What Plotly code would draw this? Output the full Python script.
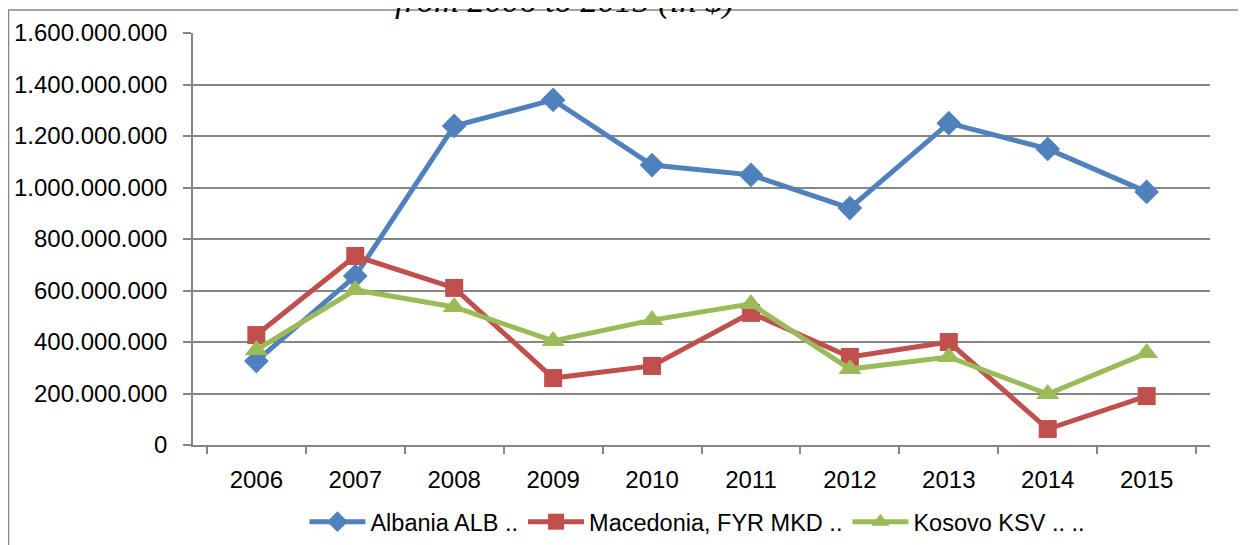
"""Line chart: yearly values for Albania, Macedonia and Kosovo, 2006-2015."""

import plotly.graph_objects as go

years = ["2006", "2007", "2008", "2009", "2010", "2011", "2012", "2013", "2014", "2015"]

albania = [326e6, 656e6, 1239e6, 1340e6, 1087e6, 1049e6, 920e6, 1250e6, 1150e6, 983e6]
macedonia = [427e6, 734e6, 610e6, 260e6, 307e6, 513e6, 342e6, 400e6, 62e6, 190e6]
kosovo = [369e6, 602e6, 536e6, 404e6, 485e6, 548e6, 295e6, 342e6, 198e6, 357e6]

series_names = ["Albania ALB ..", "Macedonia, FYR MKD ..", "Kosovo KSV .. .."]

FONT = "Liberation Sans"
GRID = "#868686"

fig = go.Figure()

fig.add_trace(go.Scatter(
    x=years, y=albania, name=series_names[0], mode="lines+markers",
    line=dict(color="#4F81BD", width=5),
    marker=dict(symbol="diamond", size=19, color="#4F81BD"),
))
fig.add_trace(go.Scatter(
    x=years, y=macedonia, name=series_names[1], mode="lines+markers",
    line=dict(color="#C0504D", width=5),
    marker=dict(symbol="square", size=18, color="#C0504D"),
))
fig.add_trace(go.Scatter(
    x=years, y=kosovo, name=series_names[2], mode="lines+markers",
    line=dict(color="#9BBB59", width=5),
    marker=dict(symbol="triangle-up", size=20, color="#9BBB59"),
))

# Titulo cortado no topo (apenas a parte de baixo aparece)
fig.add_annotation(
    text="<i>from 2006 to 2015 (in $)</i>",
    xref="paper", yref="paper", x=0.365, y=1.026,
    xanchor="center", yanchor="bottom", showarrow=False,
    font=dict(family="Liberation Serif", size=34.5, color="black"),
)

# Moldura do grafico
fig.add_shape(
    type="rect", xref="paper", yref="paper",
    x0=-0.1814, x1=1.05, y0=-0.3, y1=1.0558,
    line=dict(color=GRID, width=1.5), fillcolor="rgba(0,0,0,0)", layer="below",
)

# a pagina tem margem de 8px no body, por isso 1238x537
fig.update_layout(
    width=1238,
    height=537,
    margin=dict(l=185, r=36, t=25, b=100, autoexpand=False),
    paper_bgcolor="white",
    plot_bgcolor="white",
    separators=",.",
    font=dict(family=FONT, size=24, color="black"),
    showlegend=True,
    legend=dict(
        orientation="h", x=0.496, xanchor="center",
        yref="container", y=0.043, yanchor="middle",
        itemwidth=56,
        font=dict(family=FONT, size=23.5, color="black"),
    ),
)

fig.update_xaxes(
    type="category",
    showgrid=False,
    showline=True, linecolor=GRID, linewidth=1.5,
    ticks="outside", tickson="boundaries", ticklen=7, tickcolor=GRID, tickwidth=1.5,
    ticklabelstandoff=12,
    automargin=False,
    tickfont=dict(family=FONT, size=24, color="black"),
)

fig.update_yaxes(
    range=[0, 1.6e9],
    dtick=200e6,
    tickformat=",d",
    showgrid=True, gridcolor=GRID, gridwidth=1.5,
    showline=True, linecolor=GRID, linewidth=1.5,
    ticks="outside", ticklen=8, tickcolor=GRID, tickwidth=1.5,
    ticklabelstandoff=11,
    automargin=False,
    zeroline=False,
    tickfont=dict(family=FONT, size=24, color="black"),
)

fig.write_html("out.html")
